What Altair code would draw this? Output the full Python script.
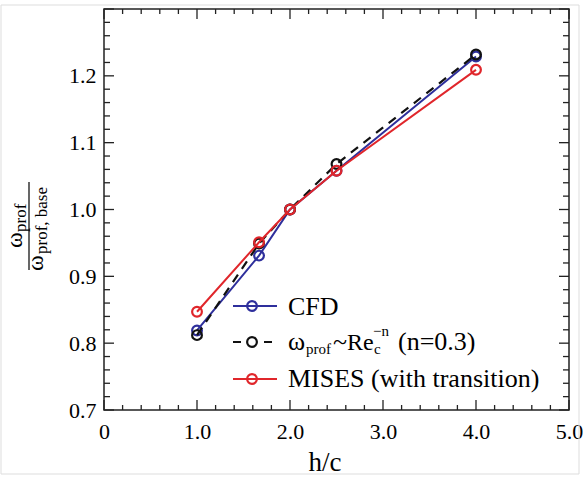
import altair as alt
import pandas as pd

# ---- data ----
h_c = [1.0, 1.667, 2.0, 2.5, 4.0]
cfd = [0.819, 0.931, 1.0, 1.058, 1.229]
rec_law = [0.812, 0.949, 1.0, 1.068, 1.232]
mises = [0.847, 0.951, 1.0, 1.058, 1.209]

x_major = [0, 1, 2, 3, 4, 5]
x_minor = [0.2, 0.4, 0.6, 0.8, 1.2, 1.4, 1.6, 1.8, 2.2, 2.4, 2.6, 2.8,
           3.2, 3.4, 3.6, 3.8, 4.2, 4.4, 4.6, 4.8]
y_major = [0.7, 0.8, 0.9, 1.0, 1.1, 1.2, 1.3]
y_labels = [0.7, 0.8, 0.9, 1.0, 1.1, 1.2]
y_minor = [0.72, 0.74, 0.76, 0.78, 0.82, 0.84, 0.86, 0.88, 0.92, 0.94, 0.96, 0.98,
           1.02, 1.04, 1.06, 1.08, 1.12, 1.14, 1.16, 1.18, 1.22, 1.24, 1.26, 1.28]

W, H = 465, 401
FONT = "Liberation Serif, Times New Roman, serif"
BLUE = "#2e2f9c"
RED = "#e0262b"
BLACK = "#111111"
FRAME = "#222222"

xs = alt.Scale(domain=[0, 5], nice=False, zero=False)
ys = alt.Scale(domain=[0.7, 1.3], nice=False, zero=False)
xaxis = alt.Axis(values=x_major, ticks=False, domain=False, grid=False, title=None,
                 labelFont=FONT, labelFontSize=22, labelColor="black", labelPadding=11,
                 labelFlush=False,
                 labelExpr="datum.value == 0 ? '0' : format(datum.value, '.1f')")
yaxis = alt.Axis(values=y_labels, ticks=False, domain=False, grid=False, title=None,
                 labelFont=FONT, labelFontSize=22, labelColor="black", labelPadding=8,
                 labelFlush=False, format=".1f")


def X(f):
    return alt.X(f, scale=xs, axis=xaxis)


def Y(f):
    return alt.Y(f, scale=ys, axis=yaxis)


df = pd.DataFrame({"h": h_c, "cfd": cfd, "rec": rec_law, "mises": mises})
one = pd.DataFrame({"k": [0]})

layers = []


# ---- inward ticks ----
def xticks(vals, length):
    d = pd.DataFrame({"h": vals})
    b = alt.Chart(d).mark_rule(color=FRAME, strokeWidth=1.3)
    return [b.encode(x=X("h:Q"), y=alt.value(H), y2=alt.value(H - length)),
            b.encode(x=X("h:Q"), y=alt.value(0), y2=alt.value(length))]


def yticks(vals, length):
    d = pd.DataFrame({"v": vals})
    b = alt.Chart(d).mark_rule(color=FRAME, strokeWidth=1.3)
    return [b.encode(y=Y("v:Q"), x=alt.value(0), x2=alt.value(length)),
            b.encode(y=Y("v:Q"), x=alt.value(W), x2=alt.value(W - length))]


layers += xticks(x_major, 10) + xticks(x_minor, 5)
layers += yticks(y_major, 10) + yticks(y_minor, 6)

# ---- series ----
base = alt.Chart(df)
for field, color, dash in [("cfd", BLUE, None), ("rec", BLACK, [9, 7]), ("mises", RED, None)]:
    if dash:
        ln = base.mark_line(color=color, strokeWidth=2.2, strokeDash=dash)
    else:
        ln = base.mark_line(color=color, strokeWidth=2)
    layers.append(ln.encode(x=X("h:Q"), y=Y(f"{field}:Q")))
    layers.append(base.mark_point(shape="circle", filled=False, size=95, strokeWidth=2.2,
                                  color=color, opacity=1)
                  .encode(x=X("h:Q"), y=Y(f"{field}:Q")))


# ---- text helpers ----
def txt(s, x, y, size, angle=0, align="left", baseline="alphabetic"):
    return alt.Chart(one).mark_text(text=s, font=FONT, fontSize=size, align=align,
                                    baseline=baseline, angle=angle, color="black"
                                    ).encode(x=alt.value(x), y=alt.value(y))


# ---- legend ----
def leg_line(y, color, dash=None):
    kw = dict(color=color, strokeWidth=2.2)
    if dash:
        kw["strokeDash"] = dash
    return alt.Chart(one).mark_rule(**kw).encode(x=alt.value(129), x2=alt.value(173),
                                                 y=alt.value(y))


def leg_pt(y, color):
    return alt.Chart(one).mark_point(shape="circle", filled=False, size=95, strokeWidth=2.2,
                                     color=color, opacity=1).encode(x=alt.value(148),
                                                                    y=alt.value(y))


layers += [leg_line(297, BLUE), leg_pt(297, BLUE), txt("CFD", 184, 306, 26)]
layers += [leg_line(333, BLACK, [8, 23]), leg_pt(333, BLACK),
           txt("ω", 184, 341, 26), txt("prof", 202, 345, 15), txt("~", 229, 341, 26),
           txt("Re", 243, 341, 24), txt("c", 270, 345, 15), txt("−n", 269, 327, 15),
           txt("(n=0.3)", 294, 341, 26)]
layers += [leg_line(370, RED), leg_pt(370, RED), txt("MISES (with transition)", 184, 378, 26)]

# ---- axis titles ----
layers.append(txt("h/c", 221, 462, 27, align="center"))
# y title as a fraction, rotated
layers.append(alt.Chart(one).mark_rule(color="black", strokeWidth=1.2)
              .encode(x=alt.value(-75), y=alt.value(173), y2=alt.value(261)))
layers += [txt("ω", -82, 239, 24, angle=270), txt("prof", -78, 223, 17, angle=270),
           txt("ω", -61, 262, 24, angle=270), txt("prof, base", -57, 245, 17, angle=270)]

# faint outer border of the figure
layers.append(alt.Chart(one).mark_rect(fill=None, stroke="#dddddd", strokeWidth=1)
              .encode(x=alt.value(-103), x2=alt.value(475), y=alt.value(-4), y2=alt.value(465)))

chart = alt.layer(*layers).properties(
    width=W, height=H,
    autosize=alt.AutoSizeParams(type="none"),
    padding={"left": 104, "top": 9, "right": 14, "bottom": 69},
).configure_view(stroke=FRAME, strokeWidth=1.5)

chart.save("out.html", embed_options={"renderer": "svg", "actions": False})
